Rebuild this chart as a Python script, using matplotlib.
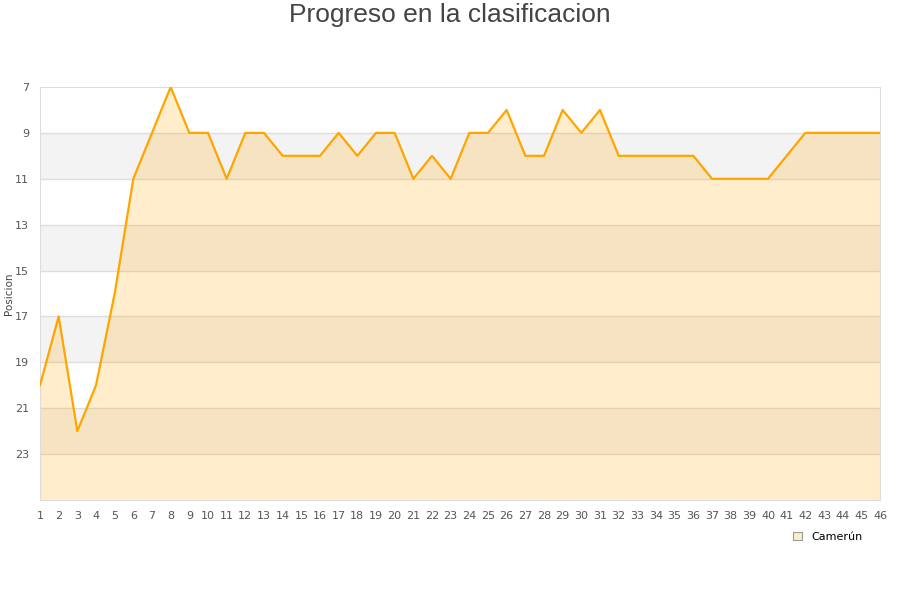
import numpy as np
import matplotlib
matplotlib.use("Agg")
import matplotlib.pyplot as plt
from matplotlib.patches import Patch

jornadas = list(range(1, 47))
posicion = [20, 17, 22, 20, 16, 11, 9, 7, 9, 9,
            11, 9, 9, 10, 10, 10, 9, 10, 9, 9,
            11, 10, 11, 9, 9, 8, 10, 10, 8, 9,
            8, 10, 10, 10, 10, 10, 11, 11, 11, 11,
            10, 9, 9, 9, 9, 9]
equipo = "Camerún"
y_ticks = [7, 9, 11, 13, 15, 17, 19, 21, 23]

fig = plt.figure(figsize=(9, 6), dpi=100)
ax = fig.add_axes([40 / 900, 100 / 600, 840 / 900, 413 / 600])

y_min, y_max = 7, 25
ax.set_xlim(1, 46)
ax.set_ylim(y_max, y_min)

# alternating bands
for i, lo in enumerate(range(y_min, y_max, 2)):
    if i % 2 == 1:
        ax.axhspan(lo, lo + 2, color="#f3f3f3", zorder=0, lw=0)
for t in y_ticks[1:]:
    ax.axhline(t, color="#dddddd", lw=1, zorder=1)

ax.fill_between(jornadas, posicion, y_max, color="#ffa500", alpha=0.2, lw=0, zorder=2)
ax.plot(jornadas, posicion, color="#ffa500", lw=1.6, zorder=3)

ax.set_yticks(y_ticks)
ax.set_xticks(jornadas)
ax.tick_params(axis="both", length=0, labelsize=8, colors="#555555")
ax.tick_params(axis="x", pad=8)
ax.tick_params(axis="y", pad=8)
for s in ax.spines.values():
    s.set_color("#dddddd")

ax.set_ylabel("Posicion", fontsize=7.5, color="#444444")
ax.yaxis.set_label_coords(-26 / 840, 0.5)
fig.suptitle("Progreso en la clasificacion", fontsize=19, color="#444444",
             family="Liberation Sans", y=0.995)

leg = fig.legend(handles=[Patch(facecolor="#fdebcb", edgecolor="#999999", lw=0.8, label=equipo)],
                 loc="center", bbox_to_anchor=(828 / 900, 1 - 537 / 600),
                 frameon=False, fontsize=8, handlelength=0.8, handleheight=0.8,
                 handletextpad=0.8)

plt.savefig("out.png", dpi=100)
plt.close()
